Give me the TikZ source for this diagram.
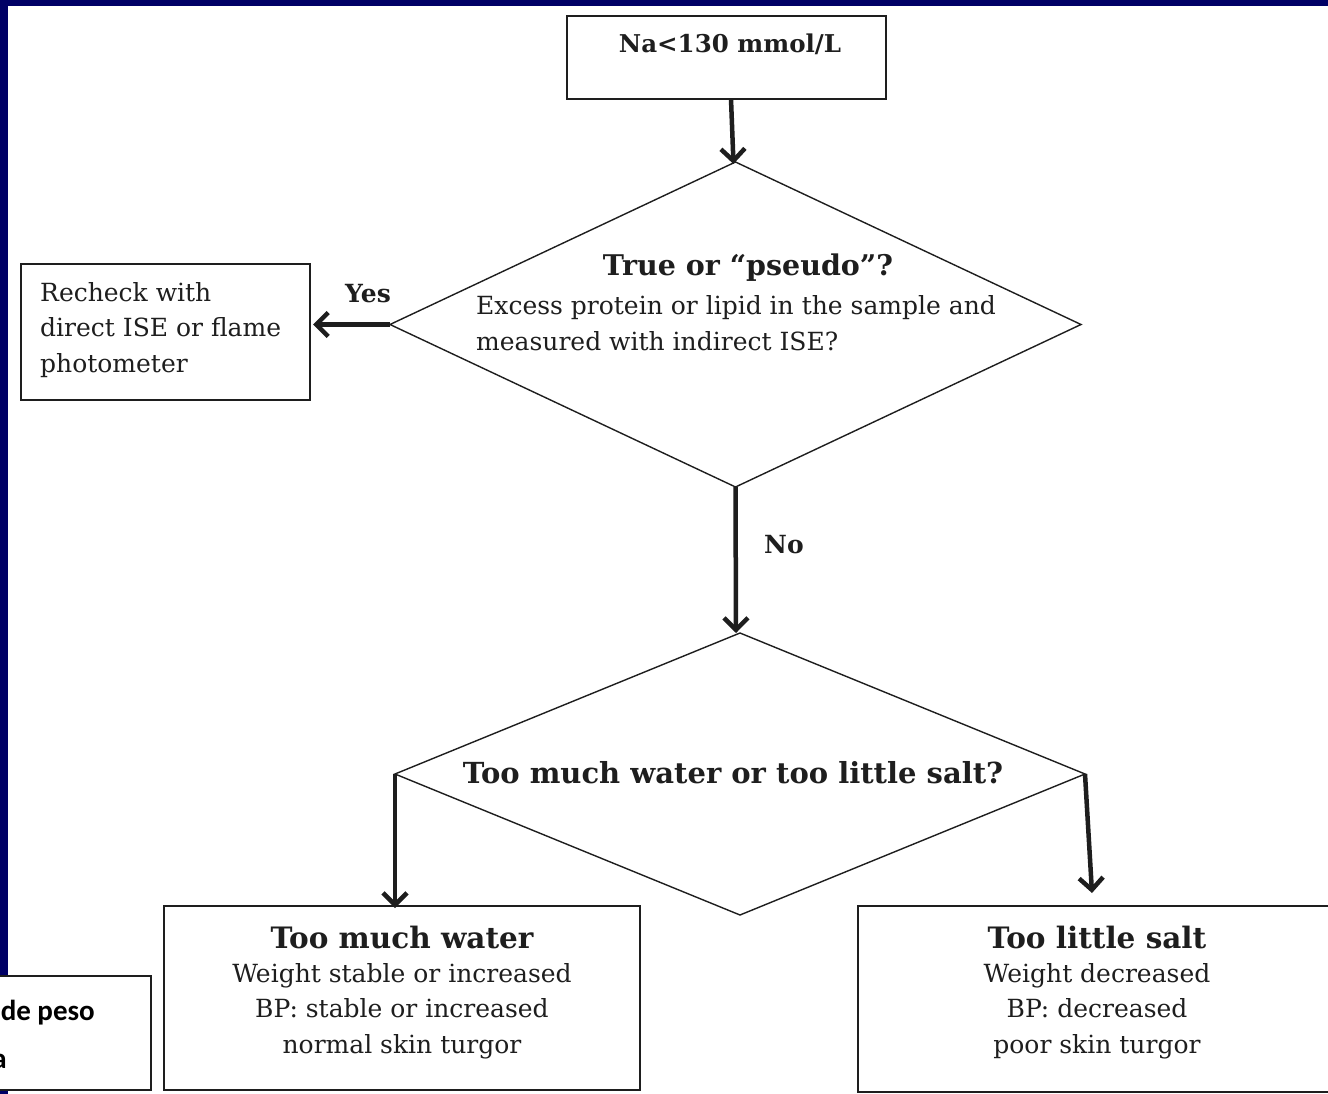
\documentclass[tikz,border=0pt]{standalone}
\usepackage{fontspec}
\setmainfont{DejaVu Serif}
\newfontfamily\calib{Carlito}
\usetikzlibrary{arrows.meta,shapes.geometric}
\definecolor{navy}{RGB}{0,0,102}
\definecolor{ink}{RGB}{30,30,30}
\begin{document}
\begin{tikzpicture}[x=1pt,y=-1pt,
  box/.style={draw=ink,line width=1.8pt,inner sep=0pt,outer sep=0pt,fill=white},
  dia/.style={draw=ink,line width=1.4pt,diamond,inner sep=0pt,outer sep=0pt},
  arr/.style={draw=ink,line width=4.5pt,-{Straight Barb[length=12pt,width=24pt,line width=4.5pt]}},
  body/.style={font=\fontsize{25}{35.5}\selectfont,text=ink,inner sep=0pt},
  lbl/.style={font=\fontsize{25}{30}\selectfont\bfseries,text=ink,inner sep=0pt},
  ttl/.style={font=\fontsize{29.5}{36}\selectfont\bfseries,text=ink,inner sep=0pt},
  cal/.style={font=\fontsize{29}{34}\selectfont\calib\bfseries,text=black,inner sep=0pt}
]
\useasboundingbox (0,0) rectangle (1328,1094);
\clip (0,0) rectangle (1328,1094);
\fill[white] (0,0) rectangle (1328,1094);
% slide frame
\fill[navy] (0,0) rectangle (1328,6);
\fill[navy] (0,0) rectangle (8,1094);

% top box
\node[box,minimum width=319pt,minimum height=83pt] (top) at (726.5,57.5) {};
\node[lbl,font=\fontsize{24.5}{28}\selectfont\bfseries] (toptxt) at (730,44) {Na<130 mmol/L};

% diamond 1
\node[dia,minimum width=691pt,minimum height=325pt] (d1) at (735.5,324.5) {};
\node[ttl,font=\fontsize{28.5}{34}\selectfont\bfseries] (d1ttl) at (748,268) {True or “pseudo”?};
\node[body,align=left,anchor=west] (d1txt) at (476,323) {Excess protein or lipid in the sample and\\measured with indirect ISE?};

% recheck box
\node[box,minimum width=289pt,minimum height=136pt] (rc) at (165.5,332) {};
\node[body,align=left,anchor=west] (rctxt) at (40,330) {Recheck with\\direct ISE or flame\\photometer};

% diamond 2
\node[dia,minimum width=690pt,minimum height=282pt] (d2) at (740,774) {};
\node[ttl,font=\fontsize{29}{34}\selectfont\bfseries] (d2ttl) at (733,773) {Too much water or too little salt?};

% bottom boxes
\node[box,minimum width=476pt,minimum height=184pt] (water) at (402,998) {};
\node[ttl] (waterttl) at (402,937) {Too much water};
\node[body,align=center] (watertxt) at (402,1011) {Weight stable or increased\\BP: stable or increased\\normal skin turgor};

\node[box,minimum width=482pt,minimum height=186pt] (salt) at (1099,999) {};
\node[ttl] (saltttl) at (1097,937) {Too little salt};
\node[body,align=center] (salttxt) at (1097,1011) {Weight decreased\\BP: decreased\\poor skin turgor};

% cut-off box at bottom left
\node[box,minimum width=201pt,minimum height=114pt] (cut) at (50.5,1033) {};
\node[cal,anchor=base east] (cut1) at (95,1020) {de peso};
\node[cal,anchor=base east] (cut2) at (7,1068) {a};

% connectors
\coordinate (rtip) at (1092,893);
\draw[arr] ([xshift=4.5pt]top.south) -- ([xshift=-2pt,yshift=-2pt]d1.north);
\draw[arr] (d1.west) -- ([xshift=3pt]d1.west -| rc.east);
\draw[arr] (d1.south) -- ([xshift=-4pt]d2.north);
\draw[arr] (d2.west) -- ([yshift=-2pt]d2.west |- water.north);
\draw[arr] (d2.east) -- (rtip);

% labels
\node[lbl] (yes) at (368,294) {Yes};
\node[lbl] (no) at (784,545) {No};
\end{tikzpicture}
\end{document}
